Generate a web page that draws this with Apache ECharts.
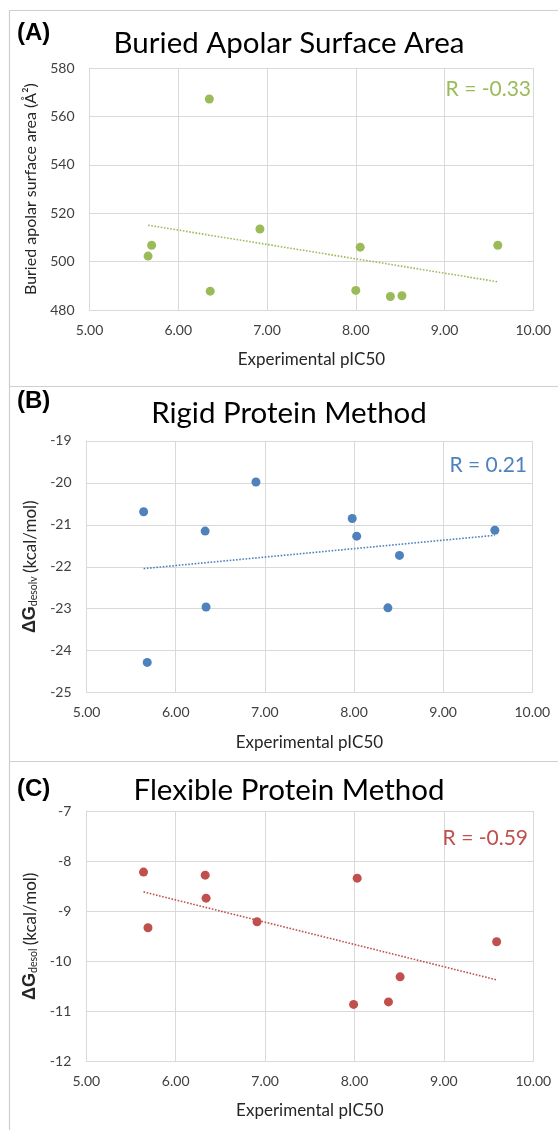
<!DOCTYPE html>
<html>
<head>
<meta charset="utf-8">
<script src="https://cdn.jsdelivr.net/npm/echarts@6/dist/echarts.min.js"></script>
<style>
html,body{margin:0;padding:0;background:#fff;}
#chart{width:558px;height:1130px;}
</style>
</head>
<body>
<div id="chart"></div>
<script>
// ---- data ----
const panelLabels = ['(A)', '(B)', '(C)'];
const panelTitles = ['Buried Apolar Surface Area', 'Rigid Protein Method', 'Flexible Protein Method'];
const rLabels = ['R = -0.33', 'R = 0.21', 'R = -0.59'];
const xAxisName = 'Experimental pIC50';
const xRange = [5, 10, 1];

const pic50A = [6.35, 5.70, 5.66, 6.92, 6.36, 8.05, 8.00, 8.39, 8.52, 9.60];
const buriedArea = [567.3, 506.8, 502.3, 513.5, 487.8, 506.0, 488.1, 485.6, 485.9, 506.8];
const yRangeA = [480, 580, 20];

const pic50B = [5.64, 5.68, 6.33, 6.34, 6.90, 7.98, 8.03, 8.51, 8.38, 9.58];
const dGRigid = [-20.69, -24.28, -21.15, -22.96, -19.98, -20.85, -21.27, -21.73, -22.98, -21.13];
const yRangeB = [-25, -19, 1];

const pic50C = [5.64, 5.69, 6.33, 6.34, 6.91, 8.03, 7.99, 8.38, 8.51, 9.59];
const dGFlex = [-8.22, -9.33, -8.28, -8.74, -9.21, -8.34, -10.86, -10.81, -10.31, -9.61];
const yRangeC = [-12, -7, 1];

const colors = ['#9BBB59', '#4F81BD', '#C0504D'];

// ---- helpers ----
function pairs(xs, ys) { return xs.map((x, i) => [x, ys[i]]); }
function trend(xs, ys) {
  const n = xs.length;
  const mx = xs.reduce((a, b) => a + b, 0) / n;
  const my = ys.reduce((a, b) => a + b, 0) / n;
  let sxy = 0, sxx = 0;
  for (let i = 0; i < n; i++) { sxy += (xs[i] - mx) * (ys[i] - my); sxx += (xs[i] - mx) ** 2; }
  const b = sxy / sxx, a = my - b * mx;
  const x0 = Math.min(...xs), x1 = Math.max(...xs);
  return [[x0, a + b * x0], [x1, a + b * x1]];
}

const FONT = 'Lato, "Open Sans", sans-serif';
const GRID_C = '#d9d9d9';
const TICK_C = '#404040';

const grids = [
  { left: 89.5, top: 68.3, width: 443.8, height: 241.7 },
  { left: 86.6, top: 440.9, width: 445.7, height: 251.7 },
  { left: 86.3, top: 811, width: 447, height: 250.5 }
];

const yRanges = [yRangeA, yRangeB, yRangeC];
const yNames = [
  'Buried apolar surface area (Å²)',
  '{g|ΔG}{s|desolv} {u|(kcal/mol)}',
  '{g|ΔG}{s|desol} {u|(kcal/mol)}'
];
const yNameGaps = [47, 44, 42];
const datasets = [pairs(pic50A, buriedArea), pairs(pic50B, dGRigid), pairs(pic50C, dGFlex)];
const trends = [trend(pic50A, buriedArea), trend(pic50B, dGRigid), trend(pic50C, dGFlex)];

const xAxes = [], yAxes = [], series = [];
for (let i = 0; i < 3; i++) {
  xAxes.push({
    gridIndex: i, type: 'value', min: xRange[0], max: xRange[1], interval: xRange[2],
    name: xAxisName, nameLocation: 'middle', nameGap: 41,
    nameTextStyle: { fontFamily: FONT, fontSize: 17, color: '#262626' },
    axisLine: { show: true, onZero: false, lineStyle: { color: GRID_C } },
    axisTick: { show: false },
    axisLabel: { margin: 13, fontFamily: FONT, fontSize: 14, color: TICK_C, formatter: v => v.toFixed(2) },
    splitLine: { show: true, lineStyle: { color: GRID_C, width: 1 } }
  });
  yAxes.push({
    gridIndex: i, type: 'value', min: yRanges[i][0], max: yRanges[i][1], interval: yRanges[i][2],
    name: yNames[i], nameLocation: 'middle', nameGap: yNameGaps[i],
    nameTextStyle: i === 0 ? { fontFamily: FONT, fontSize: 16, color: '#262626' } : {
      color: '#262626',
      rich: {
        g: { fontFamily: 'Liberation Sans, Arial, sans-serif', fontWeight: 'bold', fontSize: 18, color: '#262626', lineHeight: 22, verticalAlign: 'bottom' },
        s: { fontFamily: FONT, fontSize: 10.5, color: '#262626', lineHeight: 10, verticalAlign: 'bottom' },
        u: { fontFamily: FONT, fontSize: 17, color: '#262626', lineHeight: 22, verticalAlign: 'bottom' }
      }
    },
    axisLine: { show: true, onZero: false, lineStyle: { color: GRID_C } },
    axisTick: { show: false },
    axisLabel: { margin: 15, fontFamily: FONT, fontSize: 14, color: TICK_C },
    splitLine: { show: true, lineStyle: { color: GRID_C, width: 1 } }
  });
  series.push({
    type: 'line', xAxisIndex: i, yAxisIndex: i, data: trends[i], symbol: 'none',
    lineStyle: { color: colors[i], width: 1.6, type: [1.6, 1.6] }, z: 2, silent: true, animation: false
  });
  series.push({
    type: 'scatter', xAxisIndex: i, yAxisIndex: i, data: datasets[i], symbol: 'circle', symbolSize: 9,
    itemStyle: { color: colors[i], opacity: 1 }, z: 3, animation: false
  });
}

const graphics = [];
// frame lines
const LINE_C = '#cfcfcf';
graphics.push({ type: 'line', shape: { x1: 9, y1: 10.5, x2: 558, y2: 10.5 }, style: { stroke: LINE_C, lineWidth: 1.2 } });
graphics.push({ type: 'line', shape: { x1: 9.5, y1: 10, x2: 9.5, y2: 1130 }, style: { stroke: LINE_C, lineWidth: 1.2 } });
graphics.push({ type: 'line', shape: { x1: 9, y1: 386.5, x2: 558, y2: 386.5 }, style: { stroke: LINE_C, lineWidth: 1.2 } });
graphics.push({ type: 'line', shape: { x1: 9, y1: 761.5, x2: 558, y2: 761.5 }, style: { stroke: LINE_C, lineWidth: 1.2 } });

const labelY = [33, 401, 789];
const titleY = [43, 413, 790];
const rPos = [[531, 89.5], [527, 465], [528, 838]];
for (let i = 0; i < 3; i++) {
  graphics.push({ type: 'text', x: 17, y: labelY[i], style: { text: panelLabels[i], font: 'bold 24px "Liberation Sans", Arial, sans-serif', fill: '#000', align: 'left', verticalAlign: 'middle' } });
  graphics.push({ type: 'text', x: 289, y: titleY[i], style: { text: panelTitles[i], font: '29.5px ' + FONT, fill: '#000', align: 'center', verticalAlign: 'middle' } });
  graphics.push({ type: 'text', x: rPos[i][0], y: rPos[i][1], z: 10, style: { text: rLabels[i], font: '21px ' + FONT, fill: colors[i], align: 'right', verticalAlign: 'middle' } });
}

const chart = echarts.init(document.getElementById('chart'), null, { renderer: 'canvas' });
chart.setOption({
  animation: false,
  backgroundColor: '#fff',
  grid: grids,
  xAxis: xAxes,
  yAxis: yAxes,
  series: series,
  graphic: graphics
});
</script>
</body>
</html>
